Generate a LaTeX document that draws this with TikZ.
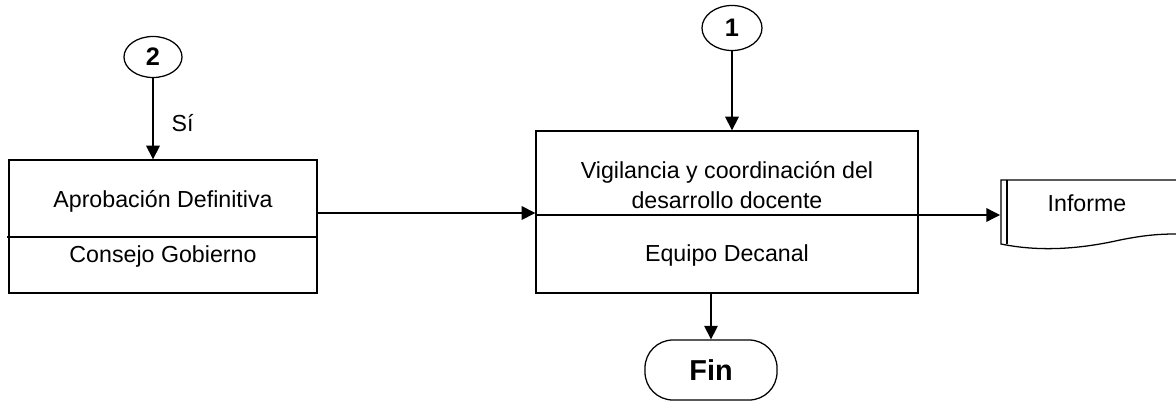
\documentclass[tikz,border=0pt]{standalone}
\usepackage{fontspec}
\setmainfont{Liberation Sans}
\usetikzlibrary{shapes.geometric,arrows.meta}

\tikzset{
  flow/.style={line width=0.9pt,-{Triangle[length=3.4mm,width=3.4mm]}},
  procbox/.style={draw,line width=0.9pt,rectangle,inner sep=0pt},
  connector/.style={draw,line width=0.9pt,ellipse,inner sep=0pt,font=\fontsize{18}{20}\selectfont\bfseries},
  txt/.style={font=\fontsize{16.5}{21}\selectfont,align=center,inner sep=0pt},
  terminal/.style={draw,line width=0.9pt,rounded corners=0.7cm,inner sep=0pt,font=\fontsize{20.5}{24}\selectfont\bfseries}
}

\begin{document}
\begin{tikzpicture}[x=0.025cm,y=-0.025cm]
  \useasboundingbox (0,0) rectangle (1176,401);

  % ====================================================
  % LEFT: APPROVAL STEP
  % ====================================================
  \node[connector,minimum width=1.45cm,minimum height=1.025cm] (con2) at (153,57) {2};
  \node[procbox,minimum width=7.7cm,minimum height=3.325cm] (aprob) at (163,226.5) {};
  \draw[line width=0.9pt] (7,237) -- (aprob.east |- 0,237);
  \node[txt] (aprobtxt) at (163,201) {Aprobación Definitiva};
  \node[txt] (consejo) at (163,256) {Consejo Gobierno};

  \draw[flow] (con2) -- (con2 |- aprob.north) node[pos=0.55,right=4.5mm,txt] (si) {Sí};

  % ====================================================
  % MIDDLE: SUPERVISION STEP
  % ====================================================
  \node[connector,minimum width=1.5cm,minimum height=1.125cm] (con1) at (732,28) {1};
  \node[procbox,minimum width=9.55cm,minimum height=4.05cm] (vigil) at (727,212) {};
  \draw[line width=0.9pt] (vigil.west |- 0,215) -- (925,215);
  \node[txt] (vigiltxt) at (727,185) {Vigilancia y coordinación del\\desarrollo docente};
  \node[txt] (decanal) at (727,255) {Equipo Decanal};

  \draw[flow] (con1) -- (con1 |- vigil.north);
  \draw[flow] (aprob.east |- 0,213) -- (vigil.west |- 0,213);

  % ====================================================
  % RIGHT: REPORT DOCUMENT
  % ====================================================
  \coordinate (docin) at (1000,215);
  \draw[line width=0.9pt]
    (1176,180) -- (1001,180) -- (1001,244)
    .. controls (1040,252) and (1080,249) .. (1120,240)
    .. controls (1145,235) and (1160,234) .. (1176,234);
  \draw[line width=0.9pt] (1007,180) -- (1007,244);
  \node[txt] (informe) at (1087,203) {Informe};

  \draw[flow] (vigil.east |- docin) -- (docin);

  % ====================================================
  % BOTTOM: END
  % ====================================================
  \node[terminal,minimum width=3.3cm,minimum height=1.5cm] (fin) at (711,370) {Fin};
  \draw[flow] (fin.north |- vigil.south) -- (fin);
\end{tikzpicture}
\end{document}
